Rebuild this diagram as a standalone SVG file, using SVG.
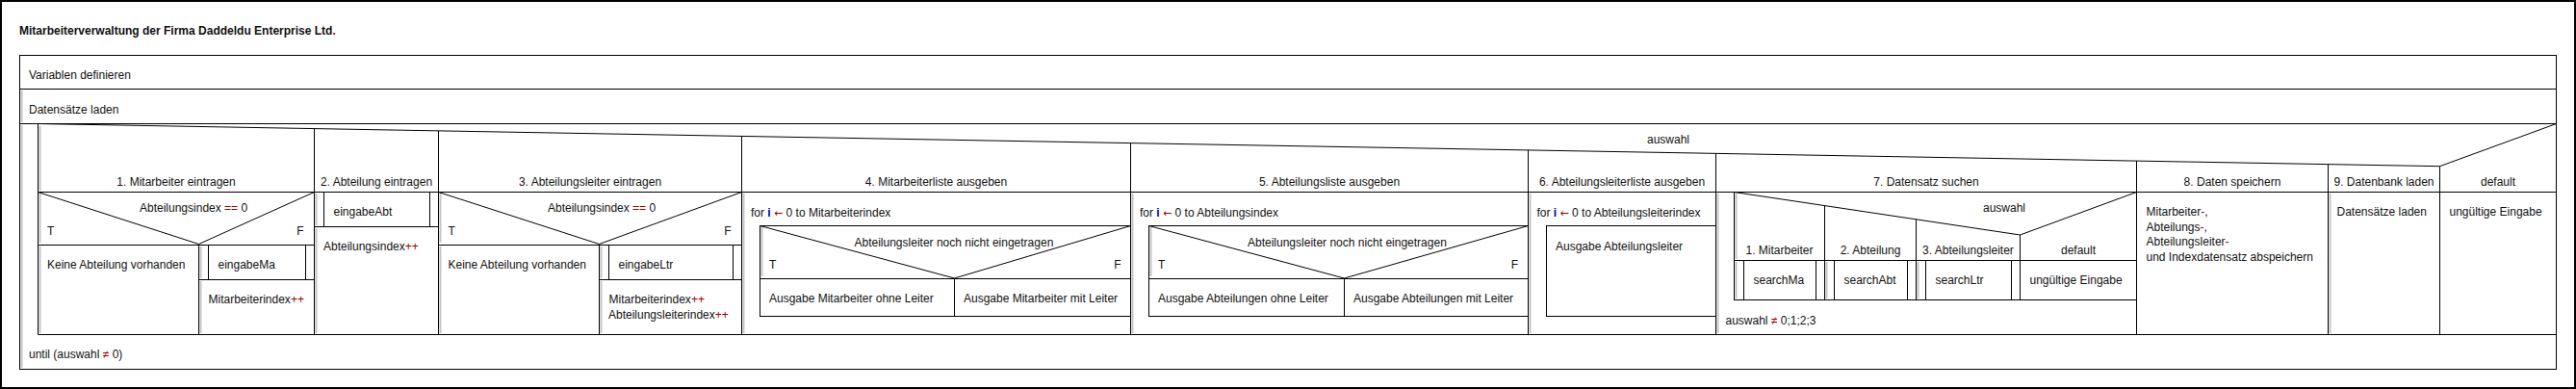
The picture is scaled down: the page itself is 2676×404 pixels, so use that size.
<svg xmlns="http://www.w3.org/2000/svg" width="2676" height="404" viewBox="0 0 2676 404">
<style>
text{font-family:"Liberation Sans",Arial,Helvetica,sans-serif;font-size:12px;fill:#111}
.t{font-weight:bold}
.m{text-anchor:middle}
.e{text-anchor:end}
.r{fill:#990000}
.a{fill:#990000;font-family:"DejaVu Sans",sans-serif;font-size:11px}
.b{fill:#000099;font-weight:bold}
.ln{stroke:#000;stroke-width:1;fill:none}
.bx{stroke:#000;stroke-width:1;fill:#fff}
.g{stroke:#c4c4c4;stroke-width:2;fill:none}
</style>
<rect x="0" y="0" width="2676" height="404" fill="#fff"/>
<rect x="1" y="1" width="2674" height="402" fill="none" stroke="#000" stroke-width="2"/>
<g id="title"><text class="t" x="20" y="36">Mitarbeiterverwaltung der Firma Daddeldu Enterprise Ltd<tspan class="r">.</tspan></text></g>
<g id="frame"><rect class="bx" x="20.5" y="57.5" width="2635" height="326"/></g>
<g id="variablen"><line class="ln" x1="20.5" y1="92.5" x2="2655.5" y2="92.5"/><text x="30" y="82">Variablen definieren</text></g>
<g id="datensaetze"><line class="g" x1="22.5" y1="94" x2="22.5" y2="127"/><line class="ln" x1="20.5" y1="128.5" x2="2655.5" y2="128.5"/><text x="30" y="118">Datensätze laden</text></g>
<g id="repeat">
<line class="g" x1="22.5" y1="130" x2="22.5" y2="382"/>
<line class="ln" x1="39.5" y1="128.5" x2="39.5" y2="347.5"/>
<line class="ln" x1="39.5" y1="347.5" x2="2655.5" y2="347.5"/>
<text x="30" y="372">until (auswahl <tspan class="r">≠</tspan> 0)</text>
</g>
<g id="case-auswahl">
<line class="g" x1="41.5" y1="131" x2="41.5" y2="198"/>
<polyline class="ln" points="39.5,128.5 2534.5,172.7 2655.5,128.5"/>
<line class="ln" x1="39.5" y1="199.5" x2="2655.5" y2="199.5"/>
<line class="ln" x1="326.5" y1="133.6" x2="326.5" y2="347.5"/>
<line class="ln" x1="455.5" y1="135.9" x2="455.5" y2="347.5"/>
<line class="ln" x1="770.5" y1="141.5" x2="770.5" y2="347.5"/>
<line class="ln" x1="1174.5" y1="148.6" x2="1174.5" y2="347.5"/>
<line class="ln" x1="1587.5" y1="155.9" x2="1587.5" y2="347.5"/>
<line class="ln" x1="1782.5" y1="159.4" x2="1782.5" y2="347.5"/>
<line class="ln" x1="2219.5" y1="167.1" x2="2219.5" y2="347.5"/>
<line class="ln" x1="2418.5" y1="170.6" x2="2418.5" y2="347.5"/>
<line class="ln" x1="2534.5" y1="172.7" x2="2534.5" y2="347.5"/>
<text class="m" x="1733" y="149">auswahl</text>
<text class="m" x="183" y="193">1<tspan class="r">.</tspan> Mitarbeiter eintragen</text>
<text class="m" x="391" y="193">2<tspan class="r">.</tspan> Abteilung eintragen</text>
<text class="m" x="613" y="193">3<tspan class="r">.</tspan> Abteilungsleiter eintragen</text>
<text class="m" x="972.5" y="193">4<tspan class="r">.</tspan> Mitarbeiterliste ausgeben</text>
<text class="m" x="1381" y="193">5<tspan class="r">.</tspan> Abteilungsliste ausgeben</text>
<text class="m" x="1685" y="193">6<tspan class="r">.</tspan> Abteilungsleiterliste ausgeben</text>
<text class="m" x="2001" y="193">7<tspan class="r">.</tspan> Datensatz suchen</text>
<text class="m" x="2319" y="193">8<tspan class="r">.</tspan> Daten speichern</text>
<text class="m" x="2476.5" y="193">9<tspan class="r">.</tspan> Datenbank laden</text>
<text class="m" x="2595" y="193">default</text>
</g>
<g id="col1-mitarbeiter-eintragen">
<line class="g" x1="41.5" y1="201" x2="41.5" y2="252"/>
<polyline class="ln" points="39.5,199.5 206.5,253.5 326.5,199.5"/>
<line class="ln" x1="39.5" y1="254.5" x2="326.5" y2="254.5"/>
<line class="ln" x1="206.5" y1="254.5" x2="206.5" y2="347.5"/>
<text x="145" y="220">Abteilungsindex <tspan class="r">==</tspan> 0</text>
<text x="49" y="244">T</text><text class="e" x="315.5" y="244">F</text>
<line class="g" x1="41.5" y1="256" x2="41.5" y2="346"/>
<text x="49" y="279">Keine Abteilung vorhanden</text>
<line class="g" x1="208.5" y1="256" x2="208.5" y2="289"/>
<line class="ln" x1="216.5" y1="254.5" x2="216.5" y2="290.5"/>
<line class="ln" x1="317.5" y1="254.5" x2="317.5" y2="290.5"/>
<line class="ln" x1="206.5" y1="290.5" x2="326.5" y2="290.5"/>
<text x="226.5" y="279">eingabeMa</text>
<line class="g" x1="208.5" y1="292" x2="208.5" y2="346"/>
<text x="216.5" y="315">Mitarbeiterindex<tspan class="r">++</tspan></text>
</g>
<g id="col2-abteilung-eintragen">
<line class="g" x1="328.5" y1="201" x2="328.5" y2="234"/>
<line class="ln" x1="336.5" y1="199.5" x2="336.5" y2="235.5"/>
<line class="ln" x1="446.5" y1="199.5" x2="446.5" y2="235.5"/>
<line class="ln" x1="326.5" y1="235.5" x2="455.5" y2="235.5"/>
<text x="346.5" y="224">eingabeAbt</text>
<line class="g" x1="328.5" y1="237" x2="328.5" y2="346"/>
<text x="336" y="260">Abteilungsindex<tspan class="r">++</tspan></text>
</g>
<g id="col3-abteilungsleiter-eintragen">
<line class="g" x1="457.5" y1="201" x2="457.5" y2="252"/>
<polyline class="ln" points="455.5,199.5 622.5,253.5 770.5,199.5"/>
<line class="ln" x1="455.5" y1="254.5" x2="770.5" y2="254.5"/>
<line class="ln" x1="622.5" y1="254.5" x2="622.5" y2="347.5"/>
<text x="569" y="220">Abteilungsindex <tspan class="r">==</tspan> 0</text>
<text x="465.5" y="244">T</text><text class="e" x="759.5" y="244">F</text>
<line class="g" x1="457.5" y1="256" x2="457.5" y2="346"/>
<text x="465.5" y="279">Keine Abteilung vorhanden</text>
<line class="g" x1="624.5" y1="256" x2="624.5" y2="289"/>
<line class="ln" x1="632.5" y1="254.5" x2="632.5" y2="290.5"/>
<line class="ln" x1="761.5" y1="254.5" x2="761.5" y2="290.5"/>
<line class="ln" x1="622.5" y1="290.5" x2="770.5" y2="290.5"/>
<text x="642.5" y="279">eingabeLtr</text>
<line class="g" x1="624.5" y1="292" x2="624.5" y2="346"/>
<text x="632.5" y="315">Mitarbeiterindex<tspan class="r">++</tspan></text>
<text x="632" y="330.5">Abteilungsleiterindex<tspan class="r">++</tspan></text>
</g>
<g id="col4-mitarbeiterliste">
<line class="g" x1="772.5" y1="201" x2="772.5" y2="346"/>
<text x="780" y="225">for <tspan class="b">i</tspan> <tspan class="a">←</tspan> 0 to Mitarbeiterindex</text>
<rect class="ln" x="789.5" y="234.5" width="385" height="94"/>
<line class="g" x1="791.5" y1="236" x2="791.5" y2="287"/>
<polyline class="ln" points="789.5,234.5 991.5,289 1174.5,234.5"/>
<line class="ln" x1="789.5" y1="289.5" x2="1174.5" y2="289.5"/>
<line class="ln" x1="991.5" y1="289.5" x2="991.5" y2="328.5"/>
<text x="887.5" y="255.5">Abteilungsleiter noch nicht eingetragen</text>
<text x="799" y="278.5">T</text><text class="e" x="1164.5" y="278.5">F</text>
<text x="799" y="314">Ausgabe Mitarbeiter ohne Leiter</text>
<text x="1001" y="314">Ausgabe Mitarbeiter mit Leiter</text>
</g>
<g id="col5-abteilungsliste">
<line class="g" x1="1176.5" y1="201" x2="1176.5" y2="346"/>
<text x="1184" y="225">for <tspan class="b">i</tspan> <tspan class="a">←</tspan> 0 to Abteilungsindex</text>
<rect class="ln" x="1193.5" y="234.5" width="394" height="94"/>
<line class="g" x1="1195.5" y1="236" x2="1195.5" y2="287"/>
<polyline class="ln" points="1193.5,234.5 1396.5,289 1587.5,234.5"/>
<line class="ln" x1="1193.5" y1="289.5" x2="1587.5" y2="289.5"/>
<line class="ln" x1="1396.5" y1="289.5" x2="1396.5" y2="328.5"/>
<text x="1296" y="255.5">Abteilungsleiter noch nicht eingetragen</text>
<text x="1203" y="278.5">T</text><text class="e" x="1577" y="278.5">F</text>
<text x="1203" y="314">Ausgabe Abteilungen ohne Leiter</text>
<text x="1406" y="314">Ausgabe Abteilungen mit Leiter</text>
</g>
<g id="col6-abteilungsleiterliste">
<line class="g" x1="1589.5" y1="201" x2="1589.5" y2="346"/>
<text x="1596.5" y="225">for <tspan class="b">i</tspan> <tspan class="a">←</tspan> 0 to Abteilungsleiterindex</text>
<rect class="ln" x="1606.5" y="234.5" width="176" height="94"/>
<text x="1616" y="259.5">Ausgabe Abteilungsleiter</text>
</g>
<g id="col7-datensatz-suchen">
<line class="g" x1="1784.5" y1="201" x2="1784.5" y2="346"/>
<rect class="ln" x="1801.5" y="199.5" width="418" height="112"/>
<line class="g" x1="1803.5" y1="201" x2="1803.5" y2="269"/>
<polyline class="ln" points="1801.5,199.5 2098.5,244 2219.5,199.5"/>
<line class="ln" x1="1895.5" y1="213.6" x2="1895.5" y2="311.5"/>
<line class="ln" x1="1990.5" y1="227.8" x2="1990.5" y2="311.5"/>
<line class="ln" x1="2098.5" y1="244" x2="2098.5" y2="311.5"/>
<line class="ln" x1="1801.5" y1="270.5" x2="2219.5" y2="270.5"/>
<text class="m" x="2082" y="220">auswahl</text>
<text class="m" x="1848.5" y="264">1<tspan class="r">.</tspan> Mitarbeiter</text>
<text class="m" x="1943" y="264">2<tspan class="r">.</tspan> Abteilung</text>
<text class="m" x="2044.5" y="264">3<tspan class="r">.</tspan> Abteilungsleiter</text>
<text class="m" x="2159" y="264">default</text>
<line class="g" x1="1803.5" y1="272" x2="1803.5" y2="310"/>
<line class="ln" x1="1811.5" y1="270.5" x2="1811.5" y2="311.5"/>
<line class="ln" x1="1886.5" y1="270.5" x2="1886.5" y2="311.5"/>
<text x="1821.5" y="295">searchMa</text>
<line class="g" x1="1897.5" y1="272" x2="1897.5" y2="310"/>
<line class="ln" x1="1905.5" y1="270.5" x2="1905.5" y2="311.5"/>
<line class="ln" x1="1981.5" y1="270.5" x2="1981.5" y2="311.5"/>
<text x="1915.5" y="295">searchAbt</text>
<line class="g" x1="1992.5" y1="272" x2="1992.5" y2="310"/>
<line class="ln" x1="2000.5" y1="270.5" x2="2000.5" y2="311.5"/>
<line class="ln" x1="2089.5" y1="270.5" x2="2089.5" y2="311.5"/>
<text x="2010.5" y="295">searchLtr</text>
<text x="2108.5" y="295">ungültige Eingabe</text>
<text x="1792.5" y="336.5">auswahl <tspan class="r">≠</tspan> 0;1;2;3</text>
</g>
<g id="col8-daten-speichern">
<text x="2229.5" y="224.3">Mitarbeiter<tspan class="r">-</tspan>,</text>
<text x="2229.5" y="239.5">Abteilungs<tspan class="r">-</tspan>,</text>
<text x="2229.5" y="254.7">Abteilungsleiter<tspan class="r">-</tspan></text>
<text x="2229.5" y="270.5">und Indexdatensatz abspeichern</text>
</g>
<g id="col9-datenbank-laden">
<line class="g" x1="2420.5" y1="201" x2="2420.5" y2="346"/>
<text x="2427.5" y="224">Datensätze laden</text>
</g>
<g id="col-default">
<text x="2544.5" y="224">ungültige Eingabe</text>
</g>
<g id="connectors"></g>
</svg>
